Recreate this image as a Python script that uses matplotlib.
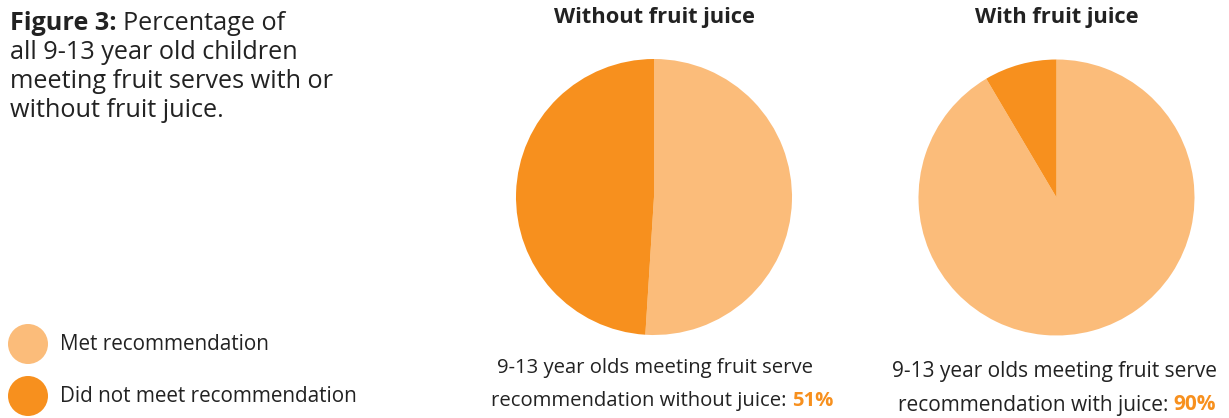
import matplotlib.pyplot as plt
from matplotlib.patches import Circle

plt.rcParams['font.family'] = ['Open Sans', 'DejaVu Sans']

# datos
titulos = ["Without fruit juice", "With fruit juice"]
met_sin_jugo = [51, 49]
met_con_jugo = [91.5, 8.5]
leyenda = ["Met recommendation", "Did not meet recommendation"]
claro = "#FBBC7A"
oscuro = "#F7901E"
texto = "#222222"

W, H = 1229, 418
fig = plt.figure(figsize=(W / 100, H / 100), dpi=100)
rend = fig.canvas.get_renderer()

# ejes de pixel para todo el texto (origen arriba a la izquierda)
lax = fig.add_axes([0, 0, 1, 1], zorder=-1)
lax.set_xlim(0, W)
lax.set_ylim(H, 0)
lax.axis('off')


def ancho(s, size, weight='normal'):
    t = lax.text(0, 0, s, fontsize=size, fontweight=weight)
    w = t.get_window_extent(renderer=rend).width
    t.remove()
    return w


def ajustar(s, objetivo, weight='normal'):
    # tamano de letra para que el texto ocupe el ancho objetivo
    return 12 * objetivo / ancho(s, 12, weight)


def ax_px(cx, cy, r):
    return fig.add_axes([(cx - r) / W, 1 - (cy + r) / H, 2 * r / W, 2 * r / H])


# tortas
fs_tit = ajustar(titulos[0], 202, 'bold')
for (cx, cy), vals, tit in [((654, 197), met_sin_jugo, titulos[0]),
                            ((1056.5, 197.5), met_con_jugo, titulos[1])]:
    ax = ax_px(cx, cy, 138)
    ax.pie(vals, colors=[claro, oscuro], startangle=90, counterclock=False,
           wedgeprops=dict(linewidth=0))
    ax.set_xlim(-1, 1)
    ax.set_ylim(-1, 1)
    ax.set_aspect('equal')
    lax.text(cx, 18, tit, ha='center', va='center', fontsize=fs_tit,
             fontweight='bold', color=texto)

# texto de la figura
lineas = ["all 9-13 year old children", "meeting fruit serves with or",
          "without fruit juice."]
fs_fig = ajustar(lineas[0], 288)
t = lax.text(10, 30, "Figure 3: ", fontsize=fs_fig, fontweight='bold',
             va='baseline', ha='left', color=texto)
x1 = 10 + ancho("Figure 3: ", fs_fig, 'bold')
lax.text(x1, 30, "Percentage of", fontsize=fs_fig, va='baseline', ha='left',
         color=texto)
for i, l in enumerate(lineas):
    lax.text(10, 59 + 29 * i, l, fontsize=fs_fig, va='baseline', ha='left',
             color=texto)

# leyenda
fs_ley = ajustar(leyenda[1], 296)
for y, col, txt in [(344, claro, leyenda[0]), (396, oscuro, leyenda[1])]:
    lax.add_patch(Circle((28, y), 20, color=col, lw=0))
    lax.text(60, y, txt, va='center', ha='left', fontsize=fs_ley, color=texto)

# leyendas inferiores
for cx1, cx2, y1, y2, ancho1, frase, pct in [
        (655, 662, 368, 401, 315, "recommendation without juice: ", "51%"),
        (1055, 1057, 372, 405, 324, "recommendation with juice: ", "90%")]:
    fs = ajustar("9-13 year olds meeting fruit serve", ancho1)
    lax.text(cx1, y1, "9-13 year olds meeting fruit serve", ha='center',
             va='center', fontsize=fs, color=texto)
    w1 = ancho(frase, fs)
    w2 = ancho(pct, fs, 'bold')
    x0 = cx2 - (w1 + w2) / 2
    lax.text(x0, y2, frase, ha='left', va='center', fontsize=fs, color=texto)
    lax.text(x0 + w1, y2, pct, ha='left', va='center', fontsize=fs,
             fontweight='bold', color=oscuro)

fig.savefig("out.png", dpi=100)
